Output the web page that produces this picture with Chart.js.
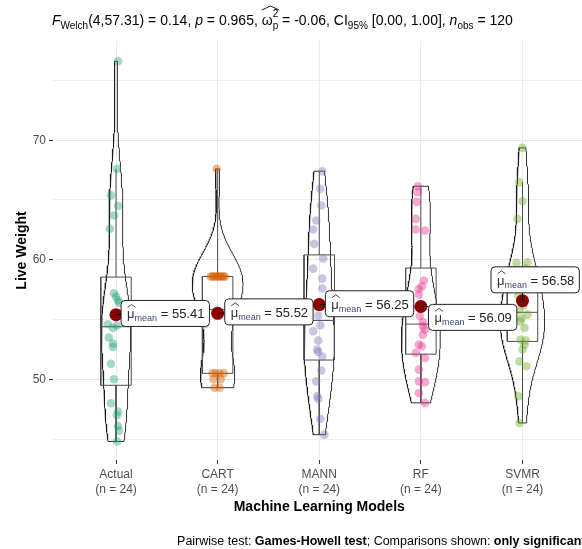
<!DOCTYPE html>
<html><head><meta charset="utf-8">
<script src="https://cdn.jsdelivr.net/npm/chart.js@4"></script>
<style>html,body{margin:0;padding:0;overflow:hidden;background:#fff}#wrap{width:592px;height:549px}</style>
</head><body><div id="wrap"><canvas id="c" width="592" height="549"></canvas></div>
<script>
// ---------------- data ----------------
const categories = ['Actual', 'CART', 'MANN', 'RF', 'SVMR'];
const groupSizes = [24, 24, 24, 24, 24];
const actualValues = [76.6, 67.6, 65.4, 64.5, 63.7, 62.6, 57.2, 56.9, 56.6, 56.4, 54.6, 54.5, 54.3, 53.5, 53.0, 52.7, 51.3, 50.0, 48.0, 47.3, 47.0, 46.1, 45.7, 44.8];
const cartValues = [67.6, 58.6, 58.6, 58.6, 58.6, 58.6, 58.6, 58.6, 58.6, 58.6, 58.6, 56.2, 55.5, 55.5, 55.0, 54.6, 50.5, 50.5, 50.5, 50.5, 50.0, 50.0, 49.3, 49.3];
const mannValues = [67.41, 65.93, 64.54, 63.28, 62.53, 61.33, 60.1, 59.26, 58.42, 57.59, 56.1, 55.33, 54.52, 54.02, 53.24, 52.49, 52.29, 51.9, 50.75, 49.83, 48.58, 48.36, 46.69, 45.37];
const rfValues = [66.15, 65.65, 64.84, 63.42, 62.53, 62.44, 58.26, 57.78, 57.56, 57.09, 55.3, 54.8, 54.44, 54.16, 53.74, 52.9, 52.76, 52.21, 51.79, 50.81, 49.83, 49.75, 48.86, 48.03];
const svmrValues = [69.36, 66.49, 64.9, 63.42, 59.79, 59.74, 59.3, 58.4, 57.6, 57.0, 56.2, 55.8, 55.41, 55.1, 54.85, 54.3, 53.32, 53.26, 52.49, 52.9, 51.5, 51.09, 48.58, 46.35];
// horizontal jitter (category units)
const actualJitter = [0.02, 0.01, -0.05, 0.02, -0.02, -0.06, -0.02, 0.0, 0.02, 0.03, -0.08, 0.01, -0.03, -0.07, -0.03, -0.03, -0.05, -0.02, -0.05, 0.02, 0.01, 0.02, 0.03, 0.01];
const cartJitter = [-0.01, -0.07, 0.03, -0.04, 0.06, -0.02, 0.01, -0.05, 0.04, 0.0, 0.07, -0.13, 0.01, -0.01, 0.13, -0.13, -0.05, 0.02, 0.06, -0.02, -0.04, 0.03, -0.03, 0.02];
const mannJitter = [0.03, 0.01, 0.02, -0.03, -0.06, -0.05, 0.04, -0.06, 0.03, 0.03, 0.02, -0.01, 0.01, -0.06, -0.01, -0.02, -0.01, 0.03, 0.02, -0.03, -0.02, -0.01, 0.01, 0.05];
const rfJitter = [-0.03, -0.03, -0.04, -0.05, -0.05, 0.04, 0.03, 0.01, -0.02, -0.02, -0.01, 0.02, 0.02, 0.04, 0.02, -0.02, 0.01, -0.05, 0.04, -0.02, -0.02, 0.04, -0.02, 0.04];
const svmrJitter = [0.0, -0.03, 0.0, -0.05, 0.05, -0.06, 0.02, -0.02, 0.03, -0.04, 0.01, -0.03, 0.05, -0.01, -0.02, 0.02, -0.02, 0.03, 0.0, 0.02, -0.03, 0.04, -0.04, -0.03];
const meanValues = [55.41, 55.52, 56.25, 56.09, 56.58];
const yGridValues = [45, 50, 55, 60, 65, 70, 75];
const yTickLabels = [50, 60, 70];
const subtitleStats = {df1: '4', df2: '57.31', F: '0.14', p: '0.965', omega: '-0.06', ci: '[0.00, 1.00]', nObs: '120'};

// ---------------- layout / style ----------------
const groupValues = [actualValues, cartValues, mannValues, rfValues, svmrValues];
const groupJitter = [actualJitter, cartJitter, mannJitter, rfJitter, svmrJitter];
const pointColors = ['rgba(27,158,119,0.4)', 'rgba(217,95,2,0.45)', 'rgba(117,112,179,0.4)', 'rgba(231,41,138,0.4)', 'rgba(102,166,30,0.4)'];
const labelLayout = { dx: [0.05, 0.07, 0.06, 0.075, -0.31], y: [55.51, 55.64, 56.32, 55.18, 58.32] };
const FONT = '"Liberation Sans", Arial, Helvetica, sans-serif';

// ---------------- stats helpers ----------------
function quantile(s, p) { const pos = (s.length - 1) * p, lo = Math.floor(pos), hi = Math.ceil(pos); return s[lo] + (s[hi] - s[lo]) * (pos - lo); }
function sdev(a) { const m = a.reduce((t, v) => t + v, 0) / a.length; return Math.sqrt(a.reduce((t, v) => t + (v - m) ** 2, 0) / (a.length - 1)); }
function bwNrd0(a) { const s = [...a].sort((p, q) => p - q); const h = sdev(a); const iqr = quantile(s, .75) - quantile(s, .25); let lo = Math.min(h, iqr / 1.34); if (!lo) lo = h || 1; return 0.9 * lo * Math.pow(a.length, -0.2); }
function kde(a, bw, y) { let t = 0; for (const v of a) t += Math.exp(-0.5 * ((y - v) / bw) ** 2); return t / (a.length * bw * Math.sqrt(2 * Math.PI)); }

const dens = groupValues.map(vals => {
  const mn = Math.min(...vals), mx = Math.max(...vals), bw = bwNrd0(vals), N = 200;
  const ys = [], ds = [];
  for (let k = 0; k < N; k++) { const y = mn + (mx - mn) * k / (N - 1); ys.push(y); ds.push(kde(vals, bw, y)); }
  return { ys, ds };
});
const gmax = Math.max(...dens.map(d => Math.max(...d.ds)));

const datasets = [];
dens.forEach((d, i) => {
  const pts = [];
  for (let k = 0; k < d.ys.length; k++) pts.push({ x: i + d.ds[k] / gmax * 0.25, y: d.ys[k] });
  for (let k = d.ys.length - 1; k >= 0; k--) pts.push({ x: i - d.ds[k] / gmax * 0.25, y: d.ys[k] });
  pts.push(pts[0]);
  datasets.push({ data: pts, showLine: true, pointRadius: 0, borderColor: '#1a1a1a', borderWidth: 0.9, fill: false, order: 5 });
});
groupValues.forEach((vals, i) => {
  const s = [...vals].sort((p, q) => p - q);
  const q1 = quantile(s, .25), md = quantile(s, .5), q3 = quantile(s, .75), iqr = q3 - q1;
  const up = Math.max(...s.filter(v => v <= q3 + 1.5 * iqr)), lo = Math.min(...s.filter(v => v >= q1 - 1.5 * iqr));
  const w = 0.15, st = { showLine: true, pointRadius: 0, borderColor: '#4d4d4d', borderWidth: 1, fill: false, order: 4 };
  datasets.push({ ...st, data: [{ x: i - w, y: q1 }, { x: i + w, y: q1 }, { x: i + w, y: q3 }, { x: i - w, y: q3 }, { x: i - w, y: q1 }] });
  datasets.push({ ...st, data: [{ x: i - w, y: md }, { x: i + w, y: md }] });
  datasets.push({ ...st, data: [{ x: i, y: q3 }, { x: i, y: up }] });
  datasets.push({ ...st, data: [{ x: i, y: q1 }, { x: i, y: lo }] });
});
groupValues.forEach((vals, i) => {
  datasets.push({ data: vals.map((v, k) => ({ x: i + groupJitter[i][k], y: v })), pointRadius: 4.3, pointBackgroundColor: pointColors[i], pointBorderWidth: 0, showLine: false, order: 3 });
});
datasets.push({ data: meanValues.map((v, i) => ({ x: i, y: v })), pointRadius: 6.5, pointBackgroundColor: '#8b0000', pointBorderWidth: 0, showLine: false, order: 2 });

// ---------------- plugins ----------------
function hat(ctx, x0, x1, yb, h) { ctx.beginPath(); ctx.moveTo(x0, yb); ctx.lineTo((x0 + x1) / 2, yb - h); ctx.lineTo(x1, yb); ctx.lineWidth = 0.9; ctx.stroke(); }

const meanLabels = {
  id: 'meanLabels',
  afterDatasetsDraw(chart) {
    const { ctx, scales: { x, y } } = chart;
    ctx.save();
    meanValues.forEach((m, i) => {
      const px = x.getPixelForValue(i), py = y.getPixelForValue(m);
      const bl = x.getPixelForValue(i + labelLayout.dx[i]), cy = y.getPixelForValue(labelLayout.y[i]);
      const val = ' = ' + m.toFixed(2);
      ctx.font = `13px ${FONT}`; const wMu = ctx.measureText('μ').width, wVal = ctx.measureText(val).width;
      ctx.font = `9px ${FONT}`; const wSub = ctx.measureText('mean').width;
      const W = 6 + wMu + wSub + wVal + 5, H = 26, top = cy - H / 2;
      ctx.strokeStyle = '#000'; ctx.lineWidth = 1;
      const tx = Math.max(bl, Math.min(px, bl + W)), ty = Math.max(top, Math.min(py, top + H));
      ctx.beginPath(); ctx.moveTo(px, py); ctx.lineTo(tx, ty); ctx.stroke();
      ctx.beginPath(); ctx.roundRect(bl, top, W, H, 4); ctx.fillStyle = '#fff'; ctx.fill(); ctx.strokeStyle = '#222'; ctx.stroke();
      const base = cy + 5;
      let tx0 = bl + 6;
      ctx.fillStyle = '#333';
      ctx.font = `13px ${FONT}`; ctx.fillText('μ', tx0, base);
      ctx.strokeStyle = '#333'; hat(ctx, tx0 + 0.5, tx0 + wMu + 1, base - 11, 3);
      tx0 += wMu;
      ctx.fillStyle = '#3a4a7a'; ctx.font = `9px ${FONT}`; ctx.fillText('mean', tx0, base + 3);
      tx0 += wSub;
      ctx.fillStyle = '#222'; ctx.font = `13px ${FONT}`; ctx.fillText(val, tx0, base);
    });
    ctx.restore();
  }
};

const textPlugin = {
  id: 'texts',
  afterDraw(chart) {
    const ctx = chart.ctx, ca = chart.chartArea;
    ctx.save(); ctx.fillStyle = '#000'; ctx.strokeStyle = '#000'; ctx.textBaseline = 'alphabetic'; ctx.textAlign = 'left';
    const S = 14, s = 10;
    let x = 52; const y = 25;
    const put = (t, size, style, dy = 0, adv = true) => { ctx.font = `${style} ${size}px ${FONT}`; ctx.fillText(t, x, y + dy); const w = ctx.measureText(t).width; if (adv) x += w; return w; };
    const st = subtitleStats;
    put('F', S, 'italic'); put('Welch', s, 'normal', 4); put(`(${st.df1},${st.df2}) = ${st.F}, `, S, 'normal');
    put('p', S, 'italic'); put(` = ${st.p}, `, S, 'normal');
    const ox = x; const ow = put('ω', S, 'normal');
    const w2 = put('2', s, 'normal', -8, false); const wp = put('p', s, 'normal', 4, false);
    hat(ctx, ox, ox + ow + Math.max(w2, wp) + 1, y - 15, 4);
    x += Math.max(w2, wp);
    put(` = ${st.omega}, CI`, S, 'normal'); put('95%', s, 'normal', 4); put(` ${st.ci}, `, S, 'normal');
    put('n', S, 'italic'); put('obs', s, 'normal', 4); put(` = ${st.nObs}`, S, 'normal');

    ctx.font = `bold 14px ${FONT}`; ctx.textAlign = 'center'; ctx.textBaseline = 'middle';
    ctx.fillText('Machine Learning Models', (ca.left + ca.right) / 2, 507);
    ctx.save(); ctx.translate(22, (ca.top + ca.bottom) / 2); ctx.rotate(-Math.PI / 2); ctx.fillText('Live Weight', 0, 0); ctx.restore();

    const segs = [['Pairwise test: ', ''], ['Games-Howell test', 'bold '], ['; Comparisons shown: ', ''], ['only significant', 'bold ']];
    ctx.textAlign = 'left'; ctx.textBaseline = 'alphabetic';
    let tot = 0; segs.forEach(([t, b]) => { ctx.font = `${b}12.5px ${FONT}`; tot += ctx.measureText(t).width; });
    let cx = ca.right - tot;
    segs.forEach(([t, b]) => { ctx.font = `${b}12.5px ${FONT}`; ctx.fillText(t, cx, 545); cx += ctx.measureText(t).width; });
    ctx.restore();
  }
};

new Chart(document.getElementById('c'), {
  type: 'scatter',
  data: { datasets },
  options: {
    responsive: false, animation: false, devicePixelRatio: 1,
    layout: { padding: { top: 41, right: 4, left: 0, bottom: 0 } },
    plugins: { legend: { display: false }, tooltip: { enabled: false } },
    scales: {
      x: {
        type: 'linear', min: -0.62, max: 4.62,
        afterBuildTicks: sc => { sc.ticks = categories.map((_, i) => ({ value: i })); },
        afterFit: sc => { sc.height = 89; },
        ticks: { callback: v => [categories[v], `(n = ${groupSizes[v]})`], color: '#4d4d4d', font: { family: FONT, size: 12, lineHeight: 1.25 }, padding: 3, maxRotation: 0, autoSkip: false },
        grid: { color: '#ebebeb', lineWidth: 1, tickColor: '#333', tickLength: 4 },
        border: { display: false }
      },
      y: {
        type: 'linear', min: 43.25, max: 78.3,
        afterBuildTicks: sc => { sc.ticks = yGridValues.map(v => ({ value: v })); },
        afterFit: sc => { sc.width = 53; },
        ticks: { callback: v => yTickLabels.includes(v) ? String(v) : '', color: '#4d4d4d', font: { family: FONT, size: 12 }, padding: 3, autoSkip: false },
        grid: {
          color: c => (c.tick && c.tick.value % 10 === 0) ? '#e6e6e6' : '#efefef',
          lineWidth: 1,
          tickColor: c => (c.tick && c.tick.value % 10 === 0) ? '#333' : 'rgba(0,0,0,0)',
          tickLength: 4
        },
        border: { display: false }
      }
    }
  },
  plugins: [meanLabels, textPlugin]
});
</script></body></html>
